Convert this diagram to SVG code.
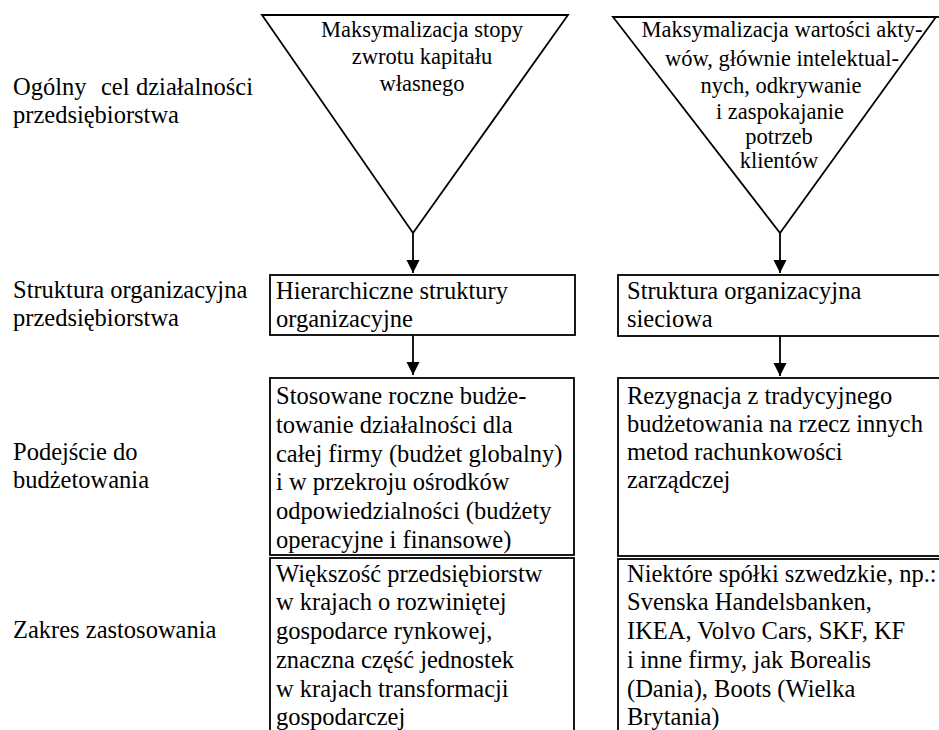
<svg xmlns="http://www.w3.org/2000/svg" width="939" height="730" viewBox="0 0 939 730">
  <style>
    text { font-family: "Liberation Serif", "Times New Roman", serif; fill: #000; }
    .lbl { font-size: 24.5px; }
    .box { font-size: 24.5px; }
    .tri { font-size: 22.5px; text-anchor: middle; }
    .shape { fill: none; stroke: #000; stroke-width: 1.8; }
    .conn { stroke: #000; stroke-width: 1.8; fill: none; }
  </style>
  <defs>
    <marker id="arrow" markerWidth="14" markerHeight="14" refX="13" refY="6.5" orient="auto" markerUnits="userSpaceOnUse">
      <path d="M0,0 L13,6.5 L0,13 Z" fill="#000"/>
    </marker>
  </defs>
  <rect width="939" height="730" fill="#fff"/>

  <!-- row labels -->
  <g id="row-labels">
    <text class="lbl" x="13" y="95">Ogólny</text>
    <text class="lbl" x="101" y="95">cel</text>
    <text class="lbl" x="253" y="95" text-anchor="end">działalności</text>
    <text class="lbl" x="13" y="123">przedsiębiorstwa</text>
    <text class="lbl" x="13" y="298">Struktura organizacyjna</text>
    <text class="lbl" x="13" y="326">przedsiębiorstwa</text>
    <text class="lbl" x="13" y="460">Podejście do</text>
    <text class="lbl" x="13" y="488">budżetowania</text>
    <text class="lbl" x="13" y="638">Zakres zastosowania</text>
  </g>

  <!-- goal triangles -->
  <g id="goal-left">
    <polygon class="shape" points="262,15 568,15 413,233"/>
    <text class="tri" x="422" y="37">Maksymalizacja stopy</text>
    <text class="tri" x="422" y="64">zwrotu kapitału</text>
    <text class="tri" x="422" y="91">własnego</text>
  </g>
  <g id="goal-right">
    <polygon class="shape" points="613,17 936,17 780,233"/>
    <line class="shape" x1="936" y1="17" x2="940" y2="17"/>
    <text class="tri" x="782" y="37">Maksymalizacja wartości akty-</text>
    <text class="tri" x="782" y="66">wów, głównie intelektual-</text>
    <text class="tri" x="781" y="93">nych, odkrywanie</text>
    <text class="tri" x="780" y="119">i zaspokajanie</text>
    <text class="tri" x="779" y="144">potrzeb</text>
    <text class="tri" x="779" y="168">klientów</text>
  </g>

  <!-- organisational structure -->
  <g id="structure-left">
    <rect class="shape" x="270" y="275" width="305" height="60"/>
    <text class="box" x="276" y="299">Hierarchiczne struktury</text>
    <text class="box" x="276" y="327">organizacyjne</text>
  </g>
  <g id="structure-right">
    <rect class="shape" x="618" y="275" width="340" height="61"/>
    <text class="box" x="627" y="299">Struktura organizacyjna</text>
    <text class="box" x="627" y="327">sieciowa</text>
  </g>

  <!-- budgeting approach -->
  <g id="budget-left">
    <rect class="shape" x="270" y="378" width="304" height="177"/>
    <text class="box" x="276" y="404">Stosowane roczne budże-</text>
    <text class="box" x="276" y="433">towanie działalności dla</text>
    <text class="box" x="276" y="462">całej firmy (budżet globalny)</text>
    <text class="box" x="276" y="490">i w przekroju ośrodków</text>
    <text class="box" x="276" y="519">odpowiedzialności (budżety</text>
    <text class="box" x="276" y="548">operacyjne i finansowe)</text>
  </g>
  <g id="budget-right">
    <rect class="shape" x="618" y="378" width="340" height="178"/>
    <text class="box" x="627" y="404">Rezygnacja z tradycyjnego</text>
    <text class="box" x="627" y="432">budżetowania na rzecz innych</text>
    <text class="box" x="627" y="460">metod rachunkowości</text>
    <text class="box" x="627" y="488">zarządczej</text>
  </g>

  <!-- scope of application -->
  <g id="scope-left">
    <rect class="shape" x="270" y="558" width="304" height="190"/>
    <text class="box" x="276" y="582">Większość przedsiębiorstw</text>
    <text class="box" x="276" y="610">w krajach o rozwiniętej</text>
    <text class="box" x="276" y="639">gospodarce rynkowej,</text>
    <text class="box" x="276" y="668">znaczna część jednostek</text>
    <text class="box" x="276" y="697">w krajach transformacji</text>
    <text class="box" x="276" y="725">gospodarczej</text>
  </g>
  <g id="scope-right">
    <rect class="shape" x="618" y="559" width="340" height="190"/>
    <text class="box" x="627" y="582">Niektóre spółki szwedzkie, np.:</text>
    <text class="box" x="627" y="610">Svenska Handelsbanken,</text>
    <text class="box" x="627" y="639">IKEA, Volvo Cars, SKF, KF</text>
    <text class="box" x="627" y="668">i inne firmy, jak Borealis</text>
    <text class="box" x="627" y="697">(Dania), Boots (Wielka</text>
    <text class="box" x="627" y="725">Brytania)</text>
  </g>

  <!-- connectors -->
  <g id="connectors">
    <line class="conn" x1="413" y1="233" x2="413" y2="273" marker-end="url(#arrow)"/>
    <line class="conn" x1="413" y1="335" x2="413" y2="375" marker-end="url(#arrow)"/>
    <line class="conn" x1="780" y1="233" x2="780" y2="273" marker-end="url(#arrow)"/>
    <line class="conn" x1="780" y1="336" x2="780" y2="376" marker-end="url(#arrow)"/>
  </g>
</svg>
